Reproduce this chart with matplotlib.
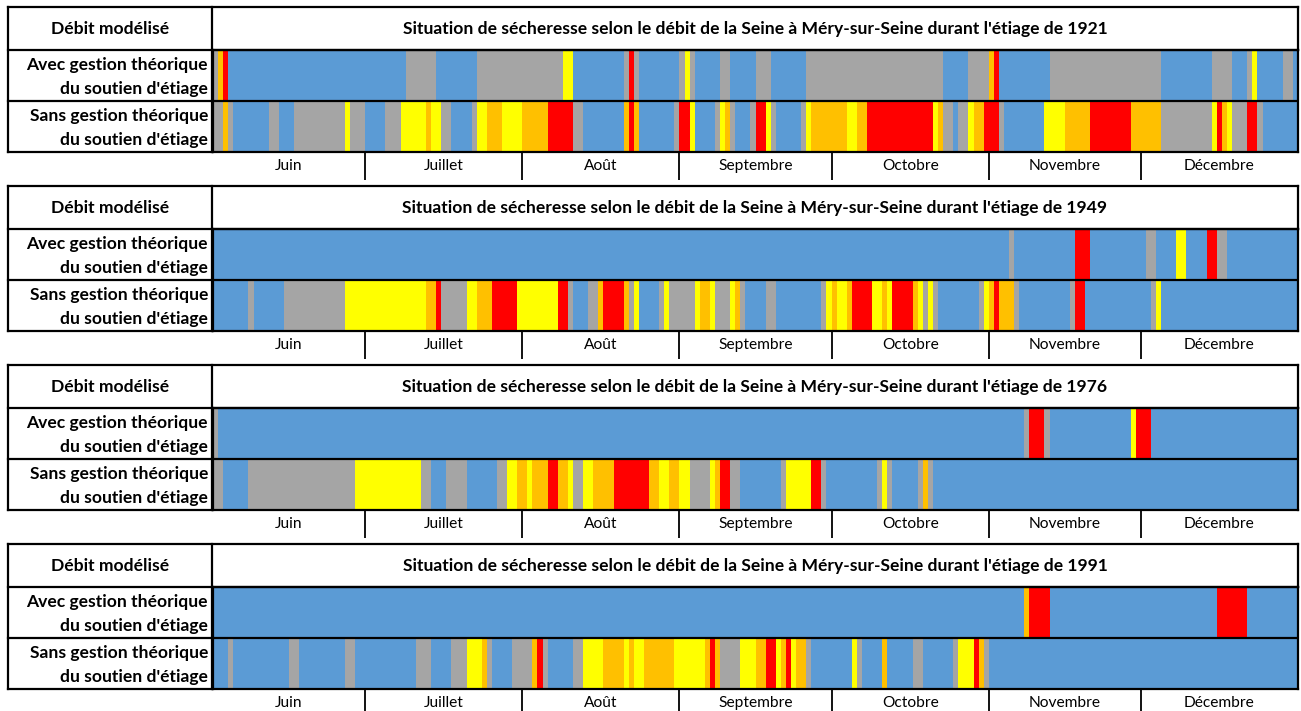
import matplotlib.pyplot as plt
from matplotlib.lines import Line2D

plt.rcParams['font.family'] = ['Lato', 'DejaVu Sans']

# etats : B = pas de restriction, G = vigilance, Y = alerte, O = alerte renforcee, R = crise
couleurs = {'B': '#5B9BD5', 'G': '#A5A5A5', 'Y': '#FFFF00', 'O': '#FFC000', 'R': '#FF0000'}

mois = ['Juin', 'Juillet', 'Août', 'Septembre', 'Octobre', 'Novembre', 'Décembre']
jours_mois = [30, 31, 31, 30, 31, 30, 31]
annees = [1921, 1949, 1976, 1991]

# (etat, jour de debut) depuis le 1er juin
avec_1921 = [('G', 0), ('O', 1), ('R', 2), ('B', 3), ('G', 38), ('B', 44), ('G', 52), ('Y', 69), ('B', 71),
             ('G', 81), ('R', 82), ('G', 83), ('B', 84), ('G', 92), ('Y', 93), ('G', 94), ('B', 95), ('G', 100),
             ('B', 102), ('G', 107), ('B', 110), ('G', 117), ('B', 144), ('G', 149), ('O', 153), ('R', 154),
             ('B', 155), ('G', 165), ('B', 187), ('G', 197), ('B', 201), ('G', 204), ('Y', 205), ('B', 206),
             ('G', 211), ('B', 213)]
sans_1921 = [('G', 0), ('O', 2), ('G', 3), ('B', 4), ('G', 11), ('B', 13), ('G', 16), ('Y', 26), ('G', 27),
             ('B', 30), ('G', 34), ('Y', 37), ('O', 42), ('Y', 43), ('G', 45), ('B', 47), ('G', 51), ('Y', 52),
             ('O', 54), ('Y', 57), ('O', 61), ('R', 66), ('G', 71), ('B', 73), ('O', 81), ('R', 82), ('O', 83),
             ('B', 84), ('G', 91), ('R', 92), ('Y', 94), ('B', 95), ('G', 99), ('Y', 100), ('O', 101), ('G', 102),
             ('B', 103), ('G', 106), ('R', 107), ('Y', 109), ('G', 110), ('B', 111), ('G', 116), ('Y', 117),
             ('O', 118), ('Y', 125), ('O', 127), ('R', 129), ('Y', 142), ('O', 143), ('G', 144), ('B', 146),
             ('G', 147), ('Y', 149), ('O', 150), ('R', 152), ('G', 155), ('B', 156), ('Y', 164), ('O', 168),
             ('R', 173), ('O', 181), ('G', 187), ('Y', 197), ('R', 198), ('O', 199), ('Y', 200), ('G', 201),
             ('R', 204), ('G', 206), ('B', 207)]

avec_1949 = [('B', 0), ('G', 157), ('B', 158), ('R', 170), ('B', 173), ('G', 184), ('B', 186), ('Y', 190),
             ('B', 192), ('R', 196), ('G', 198), ('B', 200)]
sans_1949 = [('B', 0), ('G', 7), ('B', 8), ('G', 14), ('Y', 26), ('O', 42), ('R', 44), ('G', 45), ('Y', 50),
             ('O', 52), ('R', 55), ('Y', 60), ('R', 68), ('G', 70), ('B', 71), ('G', 74), ('O', 76), ('R', 77),
             ('O', 81), ('G', 82), ('Y', 83), ('B', 84), ('G', 88), ('Y', 89), ('G', 90), ('Y', 95), ('O', 96),
             ('Y', 98), ('G', 99), ('Y', 102), ('O', 103), ('G', 104), ('B', 105), ('G', 109), ('B', 111),
             ('G', 120), ('Y', 121), ('O', 122), ('Y', 123), ('O', 125), ('R', 126), ('Y', 130), ('O', 132),
             ('Y', 133), ('R', 134), ('O', 138), ('Y', 139), ('G', 140), ('Y', 141), ('G', 142), ('B', 143),
             ('G', 151), ('Y', 152), ('O', 153), ('R', 154), ('O', 155), ('G', 158), ('B', 159), ('G', 169),
             ('R', 170), ('B', 172), ('G', 185), ('Y', 186), ('B', 187)]

avec_1976 = [('G', 0), ('B', 1), ('G', 160), ('R', 161), ('G', 164), ('B', 165), ('Y', 181), ('R', 182), ('B', 185)]
sans_1976 = [('G', 0), ('B', 2), ('G', 7), ('Y', 28), ('G', 41), ('B', 43), ('G', 46), ('B', 50), ('G', 56),
             ('Y', 58), ('O', 60), ('Y', 62), ('O', 63), ('R', 66), ('O', 68), ('Y', 70), ('G', 71), ('Y', 73),
             ('O', 75), ('R', 79), ('O', 86), ('Y', 88), ('O', 90), ('Y', 92), ('G', 94), ('Y', 98), ('O', 99),
             ('R', 100), ('G', 102), ('B', 104), ('G', 112), ('Y', 113), ('R', 118), ('G', 120), ('B', 121),
             ('G', 131), ('Y', 132), ('G', 133), ('B', 134), ('G', 139), ('O', 140), ('G', 141), ('B', 142)]

avec_1991 = [('B', 0), ('O', 160), ('R', 161), ('B', 165), ('R', 198), ('B', 204)]
sans_1991 = [('B', 0), ('G', 3), ('B', 4), ('G', 15), ('B', 17), ('G', 26), ('B', 28), ('G', 40), ('B', 43),
             ('G', 47), ('Y', 50), ('O', 53), ('G', 54), ('B', 55), ('G', 59), ('O', 63), ('R', 64), ('G', 65),
             ('B', 66), ('G', 71), ('Y', 73), ('O', 77), ('Y', 81), ('O', 82), ('Y', 83), ('O', 85), ('Y', 91),
             ('O', 97), ('R', 98), ('O', 99), ('G', 100), ('Y', 104), ('O', 107), ('R', 109), ('Y', 111),
             ('O', 112), ('R', 113), ('Y', 114), ('O', 115), ('G', 117), ('B', 118), ('Y', 126), ('G', 127),
             ('B', 128), ('O', 132), ('B', 133), ('G', 138), ('B', 140), ('G', 146), ('Y', 147), ('R', 150),
             ('O', 151), ('G', 152), ('B', 153)]

donnees = {1921: (avec_1921, sans_1921), 1949: (avec_1949, sans_1949),
           1976: (avec_1976, sans_1976), 1991: (avec_1991, sans_1991)}

total = sum(jours_mois)
bornes = [sum(jours_mois[:i + 1]) for i in range(len(jours_mois) - 1)]
centres = [sum(jours_mois[:i]) + jours_mois[i] / 2 for i in range(len(jours_mois))]

W, H = 1301, 711
fig = plt.figure(figsize=(W / 100, H / 100), dpi=100)


def trait(x0, y0, x1, y1):
    fig.add_artist(Line2D([x0 / W, x1 / W], [1 - y0 / H, 1 - y1 / H], color='black', lw=1.6,
                          solid_capstyle='projecting'))


def tracer_ligne(ax, runs, y):
    debuts = [d for _, d in runs]
    fins = debuts[1:] + [total]
    ax.barh([y] * len(runs), [f - d for d, f in zip(debuts, fins)], left=debuts, height=1,
            align='edge', color=[couleurs[e] for e, _ in runs], linewidth=0)


gauche, sep, droite = 8, 212, 1298
taille = 12.6
for i, an in enumerate(annees):
    t = 7 + 179 * i
    ax = fig.add_axes([(sep + 1) / W, 1 - (t + 145) / H, (droite - sep - 1) / W, 102 / H])
    avec, sans = donnees[an]
    tracer_ligne(ax, avec, 1)
    tracer_ligne(ax, sans, 0)
    ax.set_xlim(0, total)
    ax.set_ylim(0, 2)
    ax.axhline(1, color='black', lw=1.6)
    for s in ax.spines.values():
        s.set_linewidth(1.6)
    ax.set_yticks([])
    ax.set_xticks(bornes)
    ax.set_xticks(centres, minor=True)
    ax.set_xticklabels(mois, minor=True)
    ax.tick_params(axis='x', which='major', length=20, width=1.3, direction='out', labelbottom=False)
    ax.tick_params(axis='x', which='minor', length=0, pad=5, labelsize=11.2)

    # cadre de l'en-tete et de la colonne des libelles
    trait(gauche, t, droite, t)
    trait(gauche, t, gauche, t + 145)
    trait(gauche, t + 43, droite, t + 43)
    trait(gauche, t + 94, sep, t + 94)
    trait(gauche, t + 145, sep, t + 145)
    trait(sep, t, sep, t + 145)
    trait(droite, t, droite, t + 43)

    fig.text(110 / W, 1 - (t + 22) / H, 'Débit modélisé', ha='center', va='center',
             weight='bold', size=taille)
    fig.text((sep + droite) / 2 / W, 1 - (t + 22) / H,
             "Situation de sécheresse selon le débit de la Seine à Méry-sur-Seine durant l'étiage de %d" % an,
             ha='center', va='center', weight='bold', size=taille)
    for k, nom in enumerate(['Avec', 'Sans']):
        y0 = t + 43 + 51 * k
        fig.text(208 / W, 1 - (y0 + 15) / H, '%s gestion théorique' % nom, ha='right', va='center',
                 weight='bold', size=taille)
        fig.text(208 / W, 1 - (y0 + 39) / H, "du soutien d'étiage", ha='right', va='center',
                 weight='bold', size=taille)

fig.savefig('out.png', dpi=100)
